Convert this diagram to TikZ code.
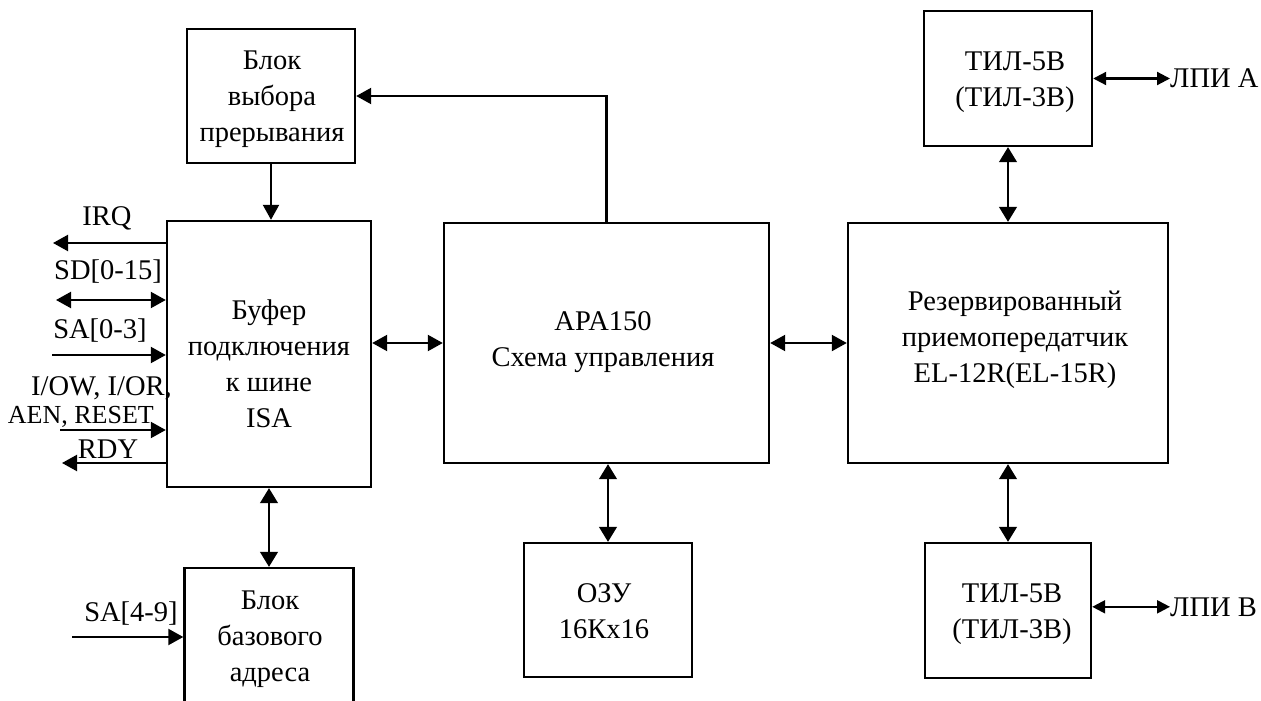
\documentclass[tikz,border=0pt]{standalone}
\usepackage{fontspec}
\setmainfont{Liberation Serif}
\usetikzlibrary{arrows.meta}
\begin{document}
\begin{tikzpicture}[x=1pt,y=-1pt,
  box/.style={draw, line width=2.4pt, inner sep=0pt},
  txt/.style={font=\fontsize{28.5}{36}\selectfont, align=center, inner sep=0pt},
  lbl/.style={font=\fontsize{28.5}{36}\selectfont, inner sep=0pt, anchor=base},
  conn/.style={line width=2.2pt},
  thinc/.style={line width=1.2pt},
  onetip/.style={-{Triangle[length=15pt,width=16pt]}},
  twotip/.style={{Triangle[length=15pt,width=16pt]}-{Triangle[length=15pt,width=16pt]}},
  vtip/.style={{Triangle[length=15pt,width=18pt]}-{Triangle[length=15pt,width=18pt]}},
  smalltip/.style={{Triangle[length=13pt,width=13pt]}-{Triangle[length=13pt,width=13pt]}}
]
\useasboundingbox (0,0) rectangle (1261,701);
\clip (0,0) rectangle (1261,701);

% boxes
\node[box, minimum width=168, minimum height=134] (intb) at (271,96) {};
\node[box, minimum width=204, minimum height=266] (buf) at (269,354) {};
\node[box, minimum width=169, minimum height=142] (base) at (269,639) {};
\node[box, minimum width=325, minimum height=240] (apa) at (606.5,343) {};
\node[box, minimum width=168, minimum height=134] (ram) at (608,610) {};
\node[box, minimum width=320, minimum height=240] (res) at (1008,343) {};
\node[box, minimum width=168, minimum height=135] (tila) at (1008,78.5) {};
\node[box, minimum width=166, minimum height=135] (tilb) at (1008,610.5) {};

% box texts
\node[txt] (intbt) at (272,99) {Блок\\выбора\\прерывания};
\node[txt] (buft) at (269,364) {Буфер\\подключения\\к шине\\ISA};
\node[txt] (baset) at (270,639) {Блок\\базового\\адреса};
\node[txt] (apat) at (603,342) {APA150\\Схема управления};
\node[txt] (ramt) at (604,611) {ОЗУ\\16Кх16};
\node[txt] (rest) at (1015,340) {Резервированный\\приемопередатчик\\EL-12R(EL-15R)};
\node[txt] (tilat) at (1015,82) {ТИЛ-5В\\(ТИЛ-3В)};
\node[txt] (tilbt) at (1012,614) {ТИЛ-5В\\(ТИЛ-3В)};

% right labels
\node[lbl, anchor=base west] (lpia) at (1170,88) {ЛПИ А};
\node[lbl, anchor=base west] (lpib) at (1170,616) {ЛПИ В};

% left labels
\node[lbl] (irql) at (107,225) {IRQ};
\node[lbl] (sdl) at (108,279) {SD[0-15]};
\node[lbl] (sal) at (100,338) {SA[0-3]};
\node[lbl, anchor=base east] (ctl1) at (172,395) {I/OW, I/OR,};
\node[lbl, anchor=base east, font=\fontsize{26}{36}\selectfont] (ctl2) at (154,423) {AEN, RESET};
\node[lbl] (rdyl) at (108,458) {RDY};
\node[lbl] (sa2l) at (131,621) {SA[4-9]};

% free ends
\coordinate (irqE) at (53,243);
\coordinate (sdE) at (56,300);
\coordinate (saE) at (52,355);
\coordinate (ctlE) at (60,430);
\coordinate (rdyE) at (62,463);
\coordinate (sa2E) at (72,637);

% connectors
\draw[conn, onetip] (intb.south) -- (intb.south |- buf.north);
\draw[conn, onetip] (apa.north) |- (intb.east);
\draw[conn, twotip] (apa.west -| buf.east) -- (apa.west);
\draw[conn, twotip] (apa.east) -- (res.west);
\draw[thinc, vtip] (ram.north |- apa.south) -- (ram.north);
\draw[thinc, vtip] (tila.south) -- (res.north);
\draw[thinc, vtip] (res.south) -- (tilb.north);
\draw[thinc, vtip] (base.north |- buf.south) -- (base.north);
\draw[conn, smalltip] (tila.east) -- (lpia.west |- tila.east);
\draw[conn, smalltip] (tilb.east |- lpib.west) -- (lpib.west);

\draw[conn, onetip] (buf.west |- irqE) -- (irqE);
\draw[conn, twotip] (sdE) -- (buf.west |- sdE);
\draw[conn, onetip] (saE) -- (buf.west |- saE);
\draw[conn, onetip] (ctlE) -- (buf.west |- ctlE);
\draw[conn, onetip] (buf.west |- rdyE) -- (rdyE);
\draw[conn, onetip] (sa2E) -- (base.west |- sa2E);
\end{tikzpicture}
\end{document}
